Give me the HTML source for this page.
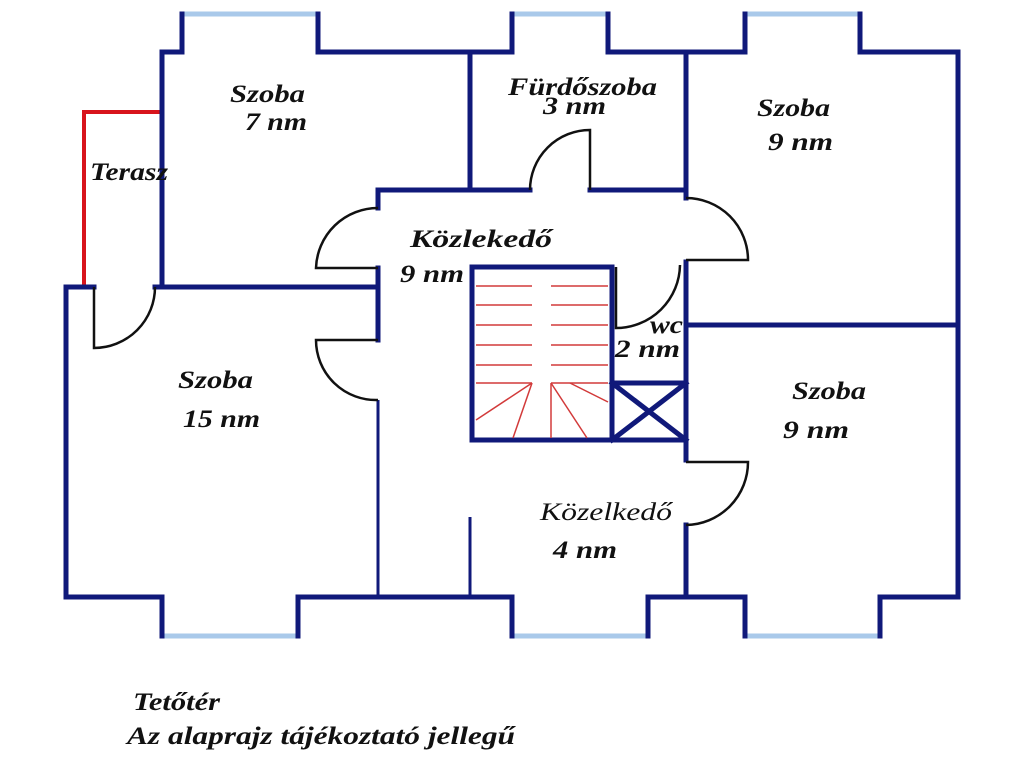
<!DOCTYPE html>
<html><head><meta charset="utf-8"><style>
html,body{margin:0;padding:0;background:#fff;width:1024px;height:768px;overflow:hidden}
svg{display:block}
text{font-family:"Liberation Serif",serif;font-style:italic;font-weight:bold;font-size:25px;fill:#111}
</style></head><body>
<svg width="1024" height="768" viewBox="0 0 1024 768">
<g fill="none" stroke="#a9c9ea" stroke-width="5">
<line x1="182" y1="14" x2="318" y2="14"/><line x1="512" y1="14" x2="608" y2="14"/><line x1="745" y1="14" x2="860" y2="14"/>
<line x1="162" y1="636" x2="298" y2="636"/><line x1="512" y1="636" x2="648" y2="636"/><line x1="745" y1="636" x2="880" y2="636"/>
</g>
<polyline points="162,112 84,112 84,285" fill="none" stroke="#d8141c" stroke-width="4"/>
<g fill="none" stroke="#10197a" stroke-width="5" stroke-linecap="square">
<polyline points="162,287 162,52 182,52 182,14"/>
<polyline points="318,14 318,52 512,52 512,14"/>
<polyline points="608,14 608,52 745,52 745,14"/>
<polyline points="860,14 860,52 958,52 958,597 880,597 880,636"/>
<polyline points="745,636 745,597 648,597 648,636"/>
<polyline points="512,636 512,597 298,597 298,636"/>
<polyline points="162,636 162,597 66,597 66,287 94,287"/>
<line x1="155" y1="287" x2="378" y2="287"/>
<polyline points="378,208 378,190 470,190 470,52"/>
<line x1="378" y1="268" x2="378" y2="340"/>
<line x1="470" y1="190" x2="530" y2="190"/>
<polyline points="590,190 686,190 686,52"/>
<line x1="686" y1="190" x2="686" y2="198"/>
<line x1="686" y1="262" x2="686" y2="460"/>
<line x1="686" y1="525" x2="686" y2="597"/>
<line x1="686" y1="325" x2="958" y2="325"/>
<rect x="472" y="267" width="140" height="173"/>
<rect x="612" y="383" width="74" height="57"/>
<line x1="612" y1="383" x2="686" y2="440"/><line x1="686" y1="383" x2="612" y2="440"/>
</g>
<g stroke="#10197a" stroke-width="3" fill="none">
<line x1="378" y1="400" x2="378" y2="597"/>
<line x1="470" y1="517" x2="470" y2="597"/>
</g>
<g fill="none" stroke="#111" stroke-width="2.5">
<path d="M94,287 L94,348 A61,61 0 0 0 155,287"/>
<path d="M378,208 A62,62 0 0 0 316,268 L378,268"/>
<path d="M378,340 L316,340 A60,60 0 0 0 378,400"/>
<path d="M530,190 A60,60 0 0 1 590,130 L590,190"/>
<path d="M686,198 A62,62 0 0 1 748,260 L686,260"/>
<path d="M616,267 L616,328 A64,64 0 0 0 680,265"/>
<path d="M686,462 L748,462 A63,63 0 0 1 686,525"/>
</g>
<g stroke="#d23a3a" stroke-width="1.5">
<line x1="476" y1="286" x2="532" y2="286"/><line x1="551" y1="286" x2="608" y2="286"/>
<line x1="476" y1="305" x2="532" y2="305"/><line x1="551" y1="305" x2="608" y2="305"/>
<line x1="476" y1="325" x2="532" y2="325"/><line x1="551" y1="325" x2="608" y2="325"/>
<line x1="476" y1="345" x2="532" y2="345"/><line x1="551" y1="345" x2="608" y2="345"/>
<line x1="476" y1="365" x2="532" y2="365"/><line x1="551" y1="365" x2="608" y2="365"/>
<line x1="476" y1="383" x2="532" y2="383"/><line x1="551" y1="383" x2="608" y2="383"/>
<line x1="532" y1="383" x2="476" y2="420"/><line x1="532" y1="383" x2="513" y2="438"/>
<line x1="551" y1="383" x2="551" y2="438"/><line x1="551" y1="383" x2="587" y2="438"/>
<line x1="570" y1="383" x2="608" y2="402"/>
</g>
<text x="230" y="102" textLength="75" lengthAdjust="spacingAndGlyphs">Szoba</text>
<text x="245" y="130" textLength="62" lengthAdjust="spacingAndGlyphs">7 nm</text>
<text x="90" y="180" textLength="78" lengthAdjust="spacingAndGlyphs">Terasz</text>
<text x="508" y="95" textLength="149" lengthAdjust="spacingAndGlyphs">Fürdőszoba</text>
<text x="543" y="114" textLength="63" lengthAdjust="spacingAndGlyphs">3 nm</text>
<text x="757" y="116" textLength="73" lengthAdjust="spacingAndGlyphs">Szoba</text>
<text x="768" y="150" textLength="65" lengthAdjust="spacingAndGlyphs">9 nm</text>
<text x="410" y="247" textLength="142" lengthAdjust="spacingAndGlyphs">Közlekedő</text>
<text x="400" y="282" textLength="64" lengthAdjust="spacingAndGlyphs">9 nm</text>
<text x="650" y="333" textLength="33" lengthAdjust="spacingAndGlyphs">wc</text>
<text x="615" y="357" textLength="65" lengthAdjust="spacingAndGlyphs">2 nm</text>
<text x="178" y="388" textLength="75" lengthAdjust="spacingAndGlyphs">Szoba</text>
<text x="183" y="427" textLength="77" lengthAdjust="spacingAndGlyphs">15 nm</text>
<text x="792" y="399" textLength="74" lengthAdjust="spacingAndGlyphs">Szoba</text>
<text x="783" y="438" textLength="66" lengthAdjust="spacingAndGlyphs">9 nm</text>
<text x="540" y="520" textLength="132" lengthAdjust="spacingAndGlyphs" style="font-weight:normal">Közelkedő</text>
<text x="553" y="558" textLength="64" lengthAdjust="spacingAndGlyphs">4 nm</text>
<text x="133" y="710" textLength="87" lengthAdjust="spacingAndGlyphs">Tetőtér</text>
<text x="127" y="744" textLength="388" lengthAdjust="spacingAndGlyphs">Az alaprajz tájékoztató jellegű</text>
</svg>
</body></html>
